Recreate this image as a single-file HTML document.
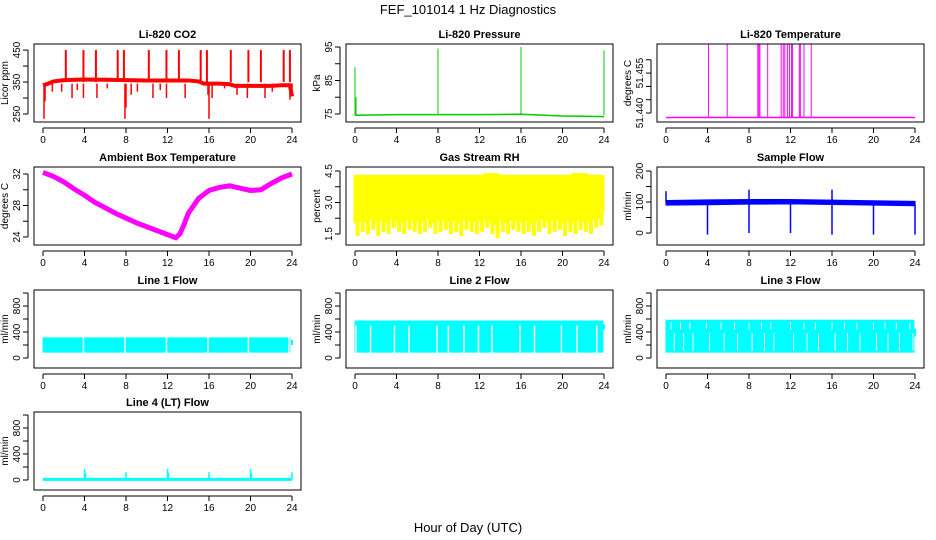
<!DOCTYPE html>
<html><head><meta charset="utf-8"><style>
body{margin:0;background:#fff;}
svg{display:block;font-family:"Liberation Sans",Arial,sans-serif;}
</style></head><body>
<svg id="chart" width="936" height="540" viewBox="0 0 936 540">
<text x="468" y="14" text-anchor="middle" font-size="13">FEF_101014  1 Hz Diagnostics</text>
<text x="468" y="532" text-anchor="middle" font-size="13">Hour of Day (UTC)</text>
</svg>
<script>
// ---------- data ----------
const xTicks=[0,4,8,12,16,20,24];
// CO2
const co2Hours=[0,0.5,1,2,4,6,8,10,12,14,15,15.5,17,18,18.5,20,22,23,23.8,24];
const co2Base=[340,345,352,356,358,357,356,355,355,355,352,345,345,343,338,338,338,340,340,305];
const co2UpHours=[2.2,3.9,5.1,7.2,7.8,10.2,11.9,13.1,15.2,15.8,18.1,19.8,21.0,23.2,23.8];
const co2UpVals=[450,450,450,450,450,450,450,450,450,450,450,450,450,450,450];
const co2DnHours=[0.1,0.2,0.9,1.8,2.8,3.3,3.9,5.2,6.2,7.9,8.0,8.5,9.1,10.6,11.3,11.9,13.7,15.9,16.0,16.3,17.5,18.7,19.7,21.4,22.1,23.8,24];
const co2DnVals=[235,290,320,320,300,325,300,300,330,235,270,310,320,300,325,300,300,310,235,300,330,310,300,300,320,295,310];
// Pressure
const presBaseHours=[0,4,8,12,16,20,22,24];
const presBase=[74.6,74.8,74.8,74.8,74.9,74.4,74.3,74.2];
const presSpikeHours=[0,0.1,8,16,24];
const presSpikeVals=[89,80,94.5,95,94];
// Li-820 temperature
const tempBaseVal=51.4383;
const tempSpikeHours=[4.1,5.9,8.85,8.95,9.05,9.8,11.1,11.3,11.45,11.7,11.9,12.1,12.2,12.85,12.95,13.3,14.0];
// Ambient box temperature
const ambHours=[0,1,2,3,4,5,6,7,8,9,10,11,12,12.8,13.2,13.6,14,15,16,17,18,19,20,21,22,23,24];
const ambVals=[32.2,31.7,31.0,30.1,29.3,28.4,27.7,27.0,26.4,25.8,25.3,24.8,24.3,23.9,24.4,25.6,27.0,28.9,29.9,30.3,30.5,30.2,29.9,30.0,30.8,31.5,32.0];
// Gas stream RH
const rhHi=[4.3,4.3,4.3,4.3,4.3,4.3,4.3,4.3,4.3,4.3,4.3,4.3,4.3,4.3,4.3,4.3,4.3,4.3,4.3,4.3,4.3,4.2,4.2,4.2,4.3,4.4,4.4,4.4,4.3,4.3,4.3,4.3,4.3,4.3,4.3,4.3,4.3,4.3,4.3,4.3,4.3,4.3,4.4,4.4,4.4,4.3,4.3,4.3];
const rhLo=[1.4,1.6,1.5,1.7,1.4,1.6,1.5,1.8,1.6,1.5,1.7,1.6,1.5,1.6,1.8,1.5,1.6,1.7,1.5,1.6,1.4,1.7,1.6,1.5,1.6,1.8,1.5,1.3,1.6,1.5,1.7,1.6,1.5,1.6,1.4,1.6,1.8,1.5,1.6,1.7,1.4,1.6,1.5,1.7,1.6,1.5,1.8,1.9];
// Sample flow
const sfHours=[0,4,8,12,16,20,24];
const sfHi=[105,107,108,108,106,104,102];
const sfLo=[90,91,93,94,92,90,88];
const sfDipHours=[4,8,12,16,20,24];
const sfDipVals=[-5,0,0,-5,-5,-5];
const sfSpikeHours=[0,8,16];
const sfSpikeVals=[135,140,140];
// Line flows
const l1Hi=310, l1Lo=90;
const l1GapHours=[3.9,7.9,11.9,15.9,19.8,23.7];
const l2Hi=570, l2Lo=90, l2Mid=500;
const l2GapHours=[0.1,1.5,3.8,5.2,7.9,9.0,10.5,11.9,13.2,15.9,17.3,19.9,21.4,23.3];
const l3Hi=580, l3Lo=90, l3Mid=440;
const l3GapHours=[0.5,1.4,2.3,3.9,5.3,6.6,8.0,9.2,10.1,12.0,13.3,14.4,16.0,17.2,18.4,20.0,21.1,22.2,23.5];
const l4Base=10;
const l4SpikeHours=[4,4.1,8,12,12.1,16,20,20.1,24];
const l4SpikeVals=[170,110,120,170,110,120,170,110,120];

// ---------- layout ----------
const NS="http://www.w3.org/2000/svg";
const svg=document.getElementById('chart');
const colL=[34,346,657], rowT=[44,167,290,412], PW=267, PH=78;
function mk(tag,attrs,parent){const e=document.createElementNS(NS,tag);for(const k in attrs)e.setAttribute(k,attrs[k]);(parent||svg).appendChild(e);return e;}

function panel(col,row,title,ylab,ylim,yTicks,yLabels,name){
  const L=colL[col],T=rowT[row],B=T+PH,R=L+PW;
  const g=mk('g',{});
  
  
  const x=h=>L+9+h*(PW-18)/24;
  const y=v=>B-(v-ylim[0])/(ylim[1]-ylim[0])*PH;
  const clipId='c'+col+row;
  const cp=mk('clipPath',{id:clipId},g);mk('rect',{x:L,y:T,width:PW,height:PH},cp);
  const plot=mk('g',{'clip-path':'url(#'+clipId+')'},g);
  
  
  const t=mk('text',{x:(L+R)/2,y:T-6,'text-anchor':'middle','font-size':11,'font-weight':'bold'},g);t.textContent=title;
  
  
  const box=mk('rect',{x:L,y:T,width:PW,height:PH,fill:'none',stroke:'#000','stroke-width':1},g);
  
  
  const xa=mk('g',{},g);
  
  
  mk('line',{x1:x(0),x2:x(24),y1:B+6,y2:B+6,stroke:'#000'},xa);
  xTicks.forEach(h=>{mk('line',{x1:x(h),x2:x(h),y1:B+6,y2:B+11,stroke:'#000'},xa);
    const tl=mk('text',{x:x(h),y:B+21,'text-anchor':'middle','font-size':10},xa);tl.textContent=h;
    
    });
  const ya=mk('g',{},g);
  
  
  mk('line',{x1:L-6,x2:L-6,y1:y(yTicks[0]),y2:y(yTicks[yTicks.length-1]),stroke:'#000'},ya);
  yTicks.forEach((v,i)=>{mk('line',{x1:L-11,x2:L-6,y1:y(v),y2:y(v),stroke:'#000'},ya);
    if(yLabels[i]){const tl=mk('text',{x:L-14,y:y(v),'text-anchor':'middle','font-size':10,transform:'rotate(-90 '+(L-14)+' '+y(v)+')'},ya);tl.textContent=yLabels[i];
      
      }});
  const yl=mk('text',{x:L-26,y:(T+B)/2,'text-anchor':'middle','font-size':10,transform:'rotate(-90 '+(L-26)+' '+((T+B)/2)+')'},ya);yl.textContent=ylab;
  
  
  return {x,y,plot};
}
function vline(p,h,v1,v2,color,w,name){const e=mk('line',{x1:p.x(h),x2:p.x(h),y1:p.y(v1),y2:p.y(v2),stroke:color,'stroke-width':w||1},p.plot);
  
  return e;}
function band(p,hours,hi,lo,color,name){let d='M'+hours.map((h,i)=>p.x(h)+','+p.y(hi[i])).join('L');
  for(let i=hours.length-1;i>=0;i--)d+='L'+p.x(hours[i])+','+p.y(lo[i]);
  const e=mk('path',{d:d+'Z',fill:color,stroke:color,'stroke-width':1},p.plot);
  
  return e;}
function polyline(p,hours,vals,color,w,name){const e=mk('polyline',{points:hours.map((h,i)=>p.x(h)+','+p.y(vals[i])).join(' '),fill:'none',stroke:color,'stroke-width':w},p.plot);
  
  return e;}

let p=panel(0,0,'Li-820 CO2','Licor ppm',[225,469],[250,300,350,400,450],['250','','350','','450'],'co2');
polyline(p,co2Hours,co2Base,'#f00',4,'co2-series');
co2UpHours.forEach((h,i)=>vline(p,h,co2Base[0]+10,co2UpVals[i],'#f00',2,'co2-spike'));
co2DnHours.forEach((h,i)=>vline(p,h,345,co2DnVals[i],'#f00',1.5,'co2-dip'));
p=panel(1,0,'Li-820 Pressure','kPa',[72.6,95.9],[75,80,85,90,95],['75','','85','','95'],'pressure');
polyline(p,presBaseHours,presBase,'#0c0',1.5,'pressure-series');
presSpikeHours.forEach((h,i)=>vline(p,h,74.6,presSpikeVals[i],'#0c0',1,'pressure-spike'));
p=panel(2,0,'Li-820 Temperature','degrees C',[51.43662,51.46594],[51.440,51.445,51.450,51.455,51.460],['51.440','','','51.455',''],'licor-temp');
polyline(p,[0,24],[tempBaseVal,tempBaseVal],'#f0f',1.5,'licor-temp-series');
tempSpikeHours.forEach(h=>vline(p,h,tempBaseVal,51.47,'#f0f',1,'licor-temp-spike'));
p=panel(0,1,'Ambient Box Temperature','degrees C',[22.98,32.89],[24,26,28,30,32],['24','','28','','32'],'ambient-temp');
polyline(p,ambHours,ambVals,'#f0f',5,'ambient-temp-series');
p=panel(1,1,'Gas Stream RH','percent',[0.976,4.69],[1.5,2.25,3.0,3.75,4.5],['1.5','','3.0','','4.5'],'rh');
band(p,[0,24],[4.3,4.3],[2.6,2.6],'#ff0','rh-band');
rhHi.forEach((v,i)=>vline(p,i*0.5+0.25,v,rhLo[i],'#ff0',4,'rh-series'));
rhHi.forEach((v,i)=>vline(p,i*0.5,v,(rhLo[i]+2.6)/2,'#ff0',3,'rh-series'));
p=panel(2,1,'Sample Flow','ml/min',[-38.7,213],[0,50,100,150,200],['0','','100','','200'],'sample-flow');
band(p,sfHours,sfHi,sfLo,'#00f','sample-flow-band');
sfDipHours.forEach((h,i)=>vline(p,h,95,sfDipVals[i],'#00f',1.5,'sample-flow-dip'));
sfSpikeHours.forEach((h,i)=>vline(p,h,100,sfSpikeVals[i],'#00f',1.5,'sample-flow-spike'));
const fTicks=[0,200,400,600,800,1000], fLab=['0','','400','','800',''], fLim=[-154,1046];
p=panel(0,2,'Line 1 Flow','ml/min',fLim,fTicks,fLab,'line1-flow');
band(p,[0,23.8],[l1Hi,l1Hi],[l1Lo,l1Lo],'#0ff','line1-flow-band');
l1GapHours.forEach(h=>vline(p,h,l1Hi+20,l1Lo-20,'#fff',1.5,'line1-gap'));
vline(p,24,280,200,'#0ff',2,'line1-tail');
p=panel(1,2,'Line 2 Flow','ml/min',fLim,fTicks,fLab,'line2-flow');
band(p,[0,23.9],[l2Hi,l2Hi],[l2Lo,l2Lo],'#0ff','line2-flow-band');
l2GapHours.forEach(h=>vline(p,h,l2Mid,l2Lo-20,'#fff',1.5,'line2-gap'));
vline(p,24,520,440,'#0ff',2,'line2-tail');
p=panel(2,2,'Line 3 Flow','ml/min',fLim,fTicks,fLab,'line3-flow');
band(p,[0,23.9],[l3Hi,l3Hi],[l3Lo,l3Lo],'#0ff','line3-flow-band');
l3GapHours.forEach(h=>vline(p,h,l3Hi-30,l3Mid,'#fff',1,'line3-gap'));
l3GapHours.forEach(h=>vline(p,h+0.3,l3Mid-60,l3Lo+20,'#fff',1,'line3-gap'));
vline(p,24,450,330,'#0ff',2,'line3-tail');
p=panel(0,3,'Line 4 (LT) Flow','ml/min',fLim,fTicks,fLab,'line4-flow');
polyline(p,[0,24],[l4Base,l4Base],'#0ff',3,'line4-flow-series');
l4SpikeHours.forEach((h,i)=>vline(p,h,l4Base,l4SpikeVals[i],'#0ff',1.5,'line4-spike'));
</script>
</body></html>
